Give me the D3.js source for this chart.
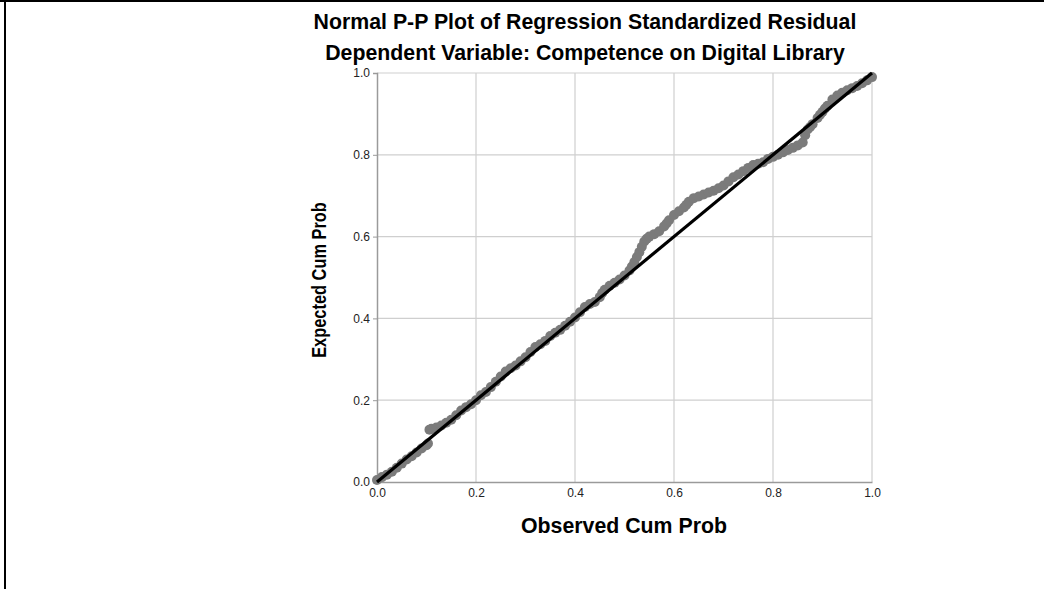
<!DOCTYPE html>
<html>
<head>
<meta charset="utf-8">
<script src="https://cdn.jsdelivr.net/npm/d3@7"></script>
<style>
  body { margin: 0; background: #fff; }
  svg { display: block; font-family: "Liberation Sans", Arial, sans-serif; }
</style>
</head>
<body>
<div id="chart"></div>
<script>
// observed vs expected cumulative probability
const observed = [0.00, 0.01, 0.02, 0.03, 0.04, 0.05, 0.06, 0.07, 0.08, 0.09, 0.10, 0.103,
  0.106, 0.11, 0.12, 0.13, 0.14, 0.15, 0.16, 0.17, 0.18, 0.19, 0.20, 0.21, 0.22, 0.23, 0.24,
  0.25, 0.26, 0.27, 0.28, 0.29, 0.30, 0.31, 0.32, 0.33, 0.34, 0.35, 0.36, 0.37, 0.38, 0.39,
  0.40, 0.41, 0.42, 0.43, 0.44, 0.45, 0.455, 0.46, 0.47, 0.48, 0.49, 0.50, 0.51, 0.515, 0.52,
  0.525, 0.53, 0.535, 0.54, 0.545, 0.55, 0.56, 0.57, 0.58, 0.585, 0.59, 0.60, 0.61, 0.62, 0.625,
  0.63, 0.64, 0.65, 0.66, 0.67, 0.68, 0.69, 0.70, 0.71, 0.72, 0.73, 0.74, 0.75, 0.76, 0.77,
  0.78, 0.79, 0.80, 0.81, 0.82, 0.83, 0.84, 0.85, 0.86, 0.865, 0.87, 0.875, 0.88, 0.89, 0.895,
  0.90, 0.905, 0.91, 0.92, 0.93, 0.94, 0.95, 0.96, 0.97, 0.98, 0.99, 1.00];
const expected = [0.005, 0.012, 0.018, 0.025, 0.035, 0.045, 0.055, 0.063, 0.072, 0.082, 0.090, 0.094,
  0.128, 0.130, 0.133, 0.138, 0.145, 0.152, 0.163, 0.175, 0.183, 0.190, 0.200, 0.212, 0.220, 0.232, 0.245,
  0.258, 0.270, 0.278, 0.285, 0.295, 0.305, 0.318, 0.330, 0.337, 0.345, 0.357, 0.365, 0.372, 0.382, 0.392,
  0.402, 0.415, 0.428, 0.435, 0.440, 0.452, 0.462, 0.470, 0.480, 0.487, 0.495, 0.505, 0.517, 0.527, 0.538,
  0.550, 0.562, 0.575, 0.588, 0.595, 0.600, 0.606, 0.613, 0.625, 0.632, 0.640, 0.653, 0.662, 0.671, 0.678,
  0.685, 0.694, 0.698, 0.703, 0.708, 0.712, 0.718, 0.725, 0.735, 0.745, 0.752, 0.760, 0.768, 0.775, 0.778,
  0.782, 0.790, 0.795, 0.800, 0.806, 0.812, 0.817, 0.823, 0.830, 0.848, 0.862, 0.868, 0.875, 0.890, 0.898,
  0.905, 0.913, 0.920, 0.935, 0.945, 0.952, 0.958, 0.963, 0.968, 0.975, 0.982, 0.990];
const ticks = [0, 0.2, 0.4, 0.6, 0.8, 1.0];

const W = 1044, H = 589;
const margin = { top: 73, right: 172, bottom: 107, left: 377 };
const width = W - margin.left - margin.right;
const height = H - margin.top - margin.bottom;

const svg = d3.select("#chart").append("svg")
  .attr("width", W)
  .attr("height", H);

// frame edges of the original export
svg.append("line").attr("x1", 0).attr("x2", W).attr("y1", 1).attr("y2", 1)
  .attr("stroke", "#000").attr("stroke-width", 2);
svg.append("line").attr("x1", 5).attr("x2", 5).attr("y1", 0).attr("y2", H)
  .attr("stroke", "#000").attr("stroke-width", 2);

svg.append("text")
  .attr("x", 585).attr("y", 29)
  .attr("text-anchor", "middle")
  .attr("font-size", 21.3).attr("font-weight", "bold")
  .text("Normal P-P Plot of Regression Standardized Residual");
svg.append("text")
  .attr("x", 585).attr("y", 60)
  .attr("text-anchor", "middle")
  .attr("font-size", 21.3).attr("font-weight", "bold")
  .text("Dependent Variable: Competence on Digital Library");

const g = svg.append("g")
  .attr("transform", `translate(${margin.left},${margin.top})`);

const x = d3.scaleLinear().domain([0, 1]).range([0, width]);
const y = d3.scaleLinear().domain([0, 1]).range([height, 0]);

// grid
g.selectAll(".gx").data(ticks.slice(1)).enter().append("line")
  .attr("x1", d => x(d)).attr("x2", d => x(d))
  .attr("y1", 0).attr("y2", height)
  .attr("stroke", "#cfcfcf").attr("stroke-width", 1.2);
g.selectAll(".gy").data(ticks.slice(1)).enter().append("line")
  .attr("x1", 0).attr("x2", width)
  .attr("y1", d => y(d)).attr("y2", d => y(d))
  .attr("stroke", "#cfcfcf").attr("stroke-width", 1.2);

const xAxis = g.append("g")
  .attr("transform", `translate(0,${height})`)
  .call(d3.axisBottom(x).tickValues(ticks).tickFormat(d3.format(".1f")).tickSize(0).tickPadding(6));
const yAxis = g.append("g")
  .call(d3.axisLeft(y).tickValues(ticks).tickFormat(d3.format(".1f")).tickSize(4).tickPadding(3));

[xAxis, yAxis].forEach(a => {
  a.select(".domain").attr("stroke", "#9a9a9a").attr("stroke-width", 1.5);
  a.selectAll(".tick line").attr("stroke", "#9a9a9a");
  a.selectAll("text").attr("font-size", 12).attr("fill", "#222")
    .attr("font-family", "'Liberation Sans', Arial, sans-serif");
});

// points
const pts = observed.map((o, i) => ({ o, e: expected[i] }));
g.selectAll(".pt").data(pts).enter().append("circle")
  .attr("cx", d => x(d.o)).attr("cy", d => y(d.e))
  .attr("r", 5)
  .attr("fill", "#7b7b7b");

// reference diagonal
g.append("line")
  .attr("x1", x(0)).attr("y1", y(0))
  .attr("x2", x(1)).attr("y2", y(1))
  .attr("stroke", "#000").attr("stroke-width", 3.2);

svg.append("text")
  .attr("x", 624).attr("y", 533)
  .attr("text-anchor", "middle")
  .attr("font-size", 21.3).attr("font-weight", "bold")
  .text("Observed Cum Prob");

svg.append("text")
  .attr("transform", "translate(326,280) rotate(-90) scale(0.78,1)")
  .attr("text-anchor", "middle")
  .attr("font-size", 21).attr("font-weight", "bold")
  .text("Expected Cum Prob");
</script>
</body>
</html>
